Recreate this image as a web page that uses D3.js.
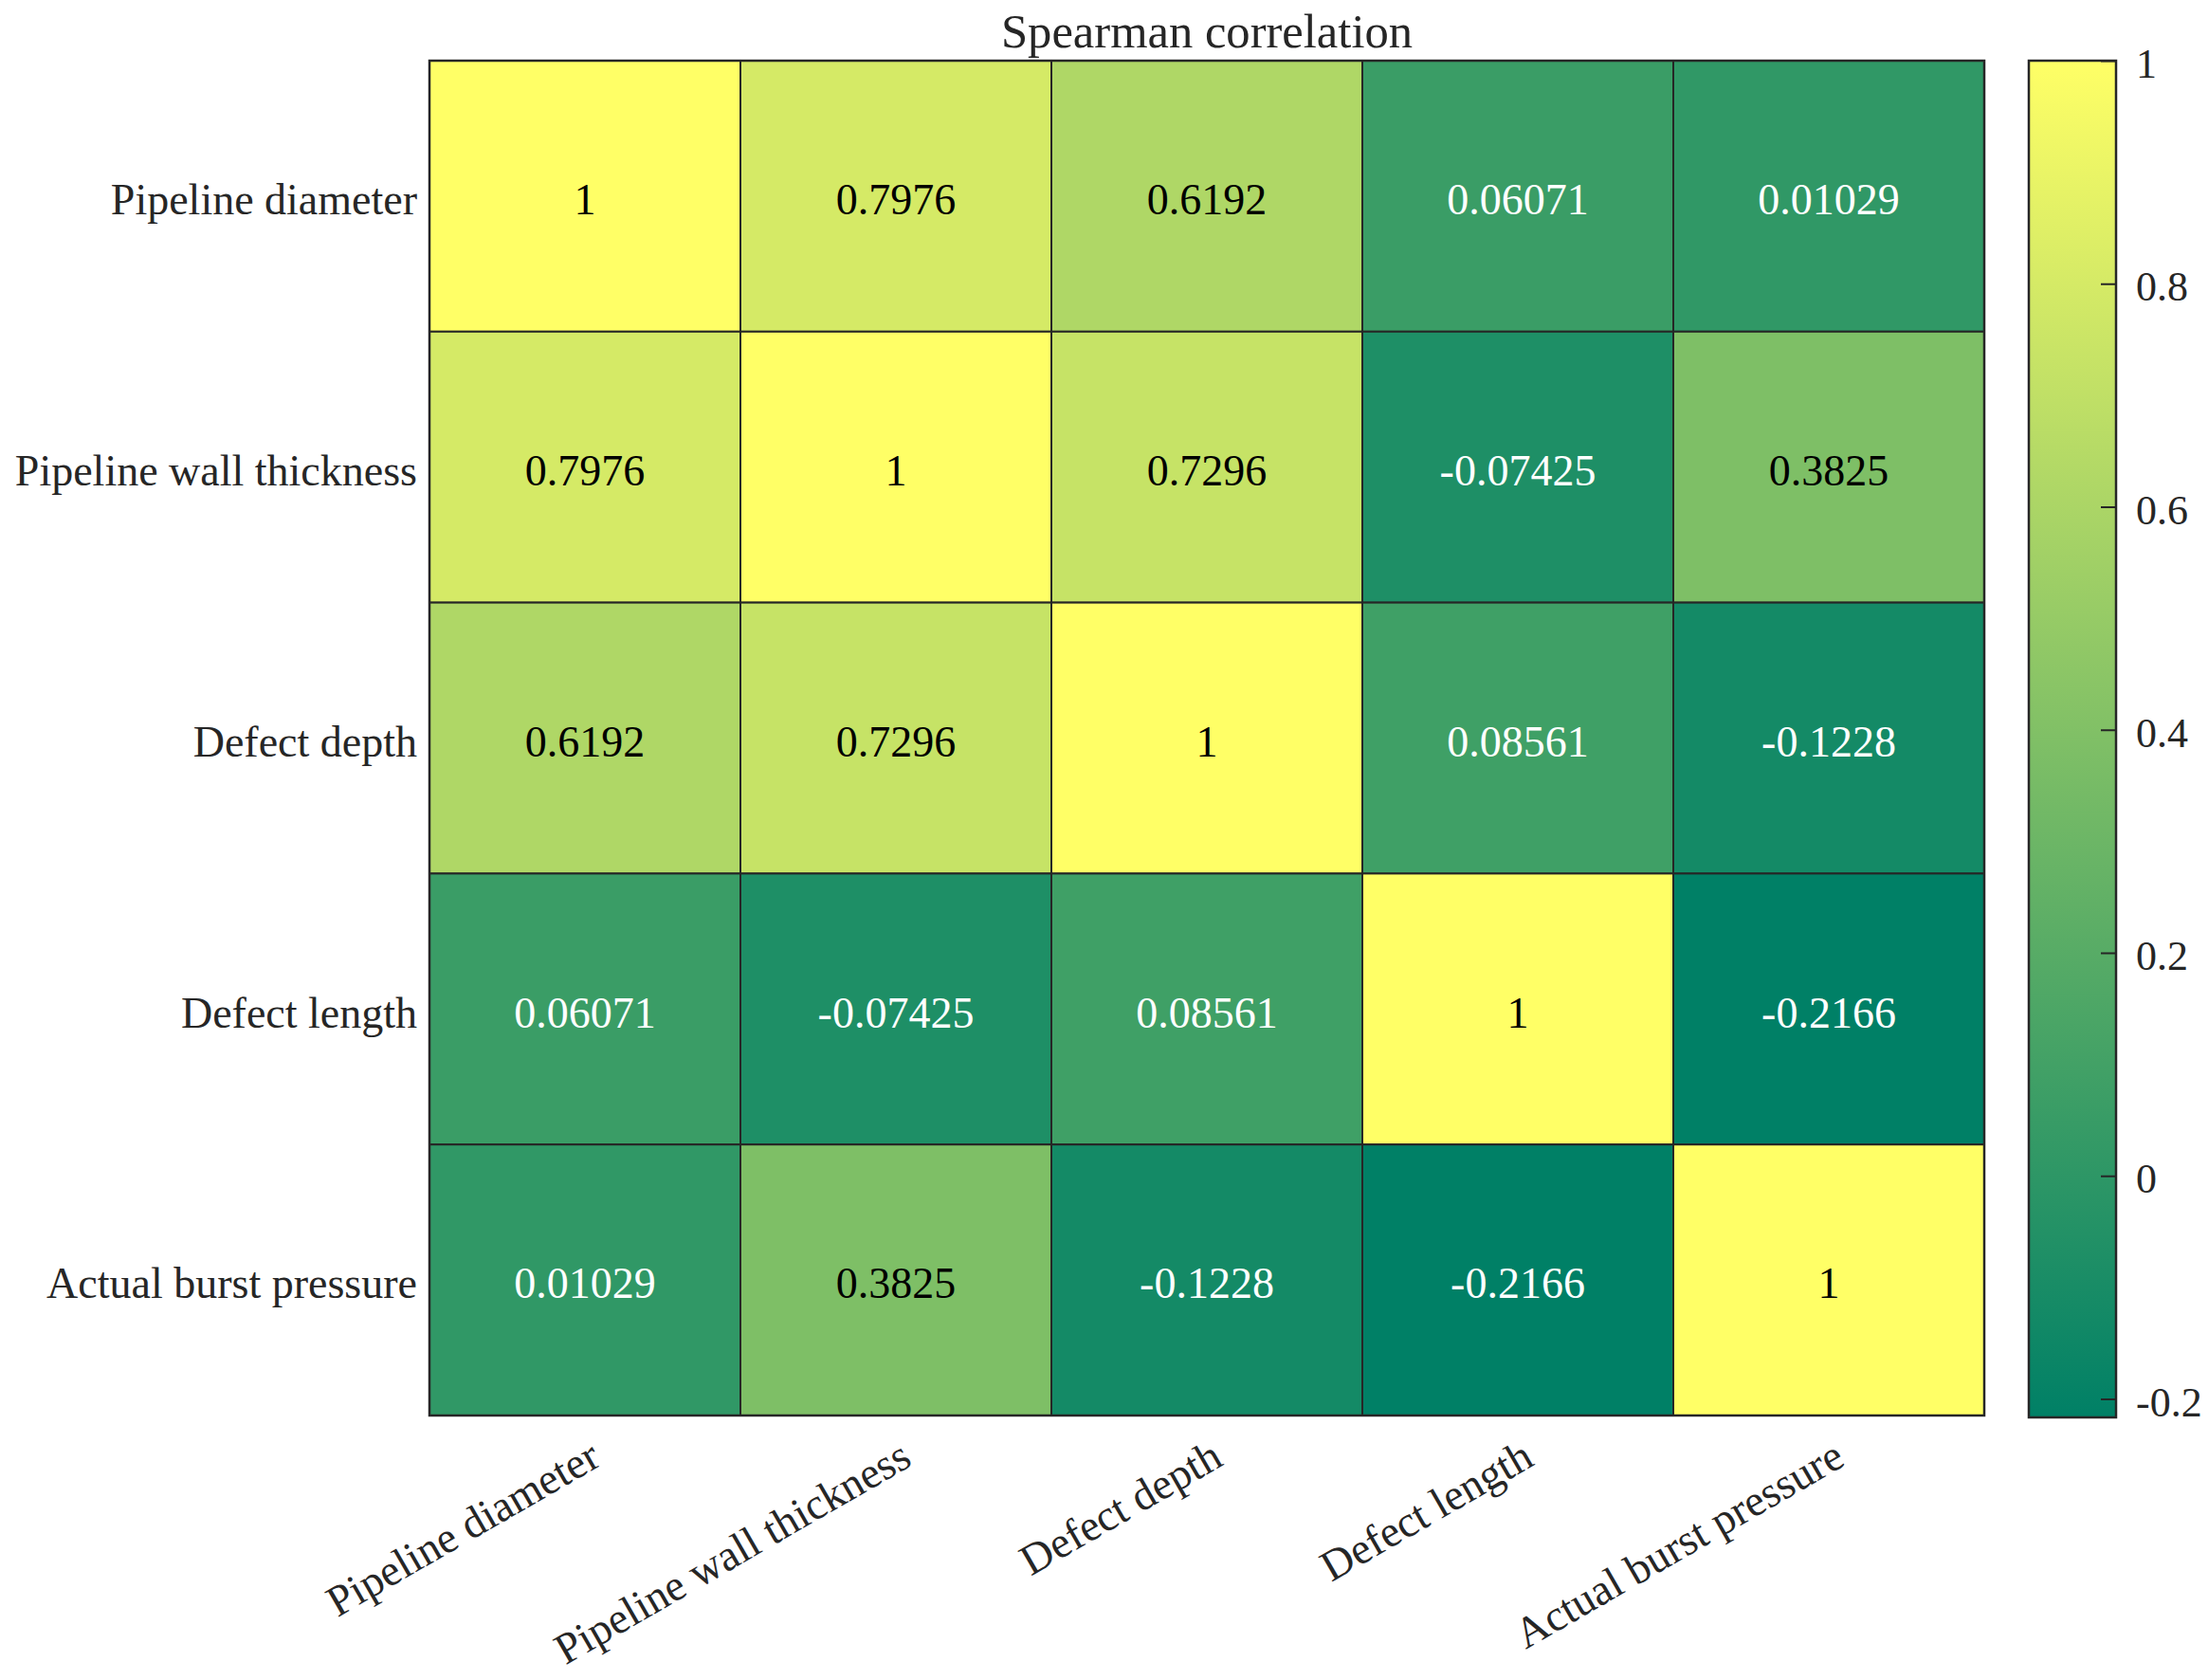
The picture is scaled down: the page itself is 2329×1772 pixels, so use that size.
<!DOCTYPE html>
<html>
<head>
<meta charset="utf-8">
<script src="https://cdn.jsdelivr.net/npm/d3@7"></script>
<style>
  body { margin: 0; background: #fff; }
  text { font-family: "Liberation Serif", "Times New Roman", serif; }
</style>
</head>
<body>
<svg id="chart" width="2329" height="1772"></svg>
<script>
// variables, same order on both axes
const variables = [
  "Pipeline diameter",
  "Pipeline wall thickness",
  "Defect depth",
  "Defect length",
  "Actual burst pressure"
];

// Spearman coefficients, one row per variable
const rowDiameter = [1, 0.7976, 0.6192, 0.06071, 0.01029];
const rowThickness = [0.7976, 1, 0.7296, -0.07425, 0.3825];
const rowDepth = [0.6192, 0.7296, 1, 0.08561, -0.1228];
const rowLength = [0.06071, -0.07425, 0.08561, 1, -0.2166];
const rowPressure = [0.01029, 0.3825, -0.1228, -0.2166, 1];

const colorbarTicks = [1, 0.8, 0.6, 0.4, 0.2, 0, -0.2];

const title = "Spearman correlation";

const rows = [rowDiameter, rowThickness, rowDepth, rowLength, rowPressure];
const cells = [];
rows.forEach((r, i) => r.forEach((v, j) => cells.push({ row: variables[i], col: variables[j], v })));

const svg = d3.select("#chart");
const fontSize = 46;
const gridColor = "#262626";

// plot area
const plotLeft = 453, plotRight = 2093, plotTop = 64, plotBottom = 1493;

const x = d3.scaleBand().domain(variables).range([plotLeft, plotRight]);
const y = d3.scaleBand().domain(variables).range([plotTop, plotBottom]);

const vmin = d3.min(cells, d => d.v), vmax = d3.max(cells, d => d.v);
// MATLAB "summer" colormap
const color = d3.scaleLinear().domain([vmin, vmax]).range(["#008066", "#ffff66"]);

const textColor = (v) => {
  const c = d3.rgb(color(v));
  const lum = 0.299 * c.r + 0.587 * c.g + 0.114 * c.b;
  return lum > 140 ? "#000" : "#fff";
};

// cells
svg.append("g")
  .selectAll("rect")
  .data(cells)
  .enter()
  .append("rect")
  .attr("x", d => x(d.col))
  .attr("y", d => y(d.row))
  .attr("width", x.bandwidth())
  .attr("height", y.bandwidth())
  .attr("fill", d => color(d.v))
  .attr("stroke", gridColor)
  .attr("stroke-width", 2);

svg.append("g")
  .selectAll("text")
  .data(cells)
  .enter()
  .append("text")
  .attr("x", d => x(d.col) + x.bandwidth() / 2)
  .attr("y", d => y(d.row) + y.bandwidth() / 2)
  .attr("dy", "0.42em")
  .attr("text-anchor", "middle")
  .attr("font-size", fontSize)
  .attr("fill", d => textColor(d.v))
  .text(d => String(d.v));

svg.append("rect")
  .attr("x", plotLeft).attr("y", plotTop)
  .attr("width", plotRight - plotLeft).attr("height", plotBottom - plotTop)
  .attr("fill", "none")
  .attr("stroke", gridColor)
  .attr("stroke-width", 2.5);

// row labels
const yAxis = svg.append("g")
  .attr("transform", `translate(${plotLeft},0)`)
  .call(d3.axisLeft(y).tickSize(0).tickPadding(13));
yAxis.select(".domain").remove();
yAxis.selectAll("text")
  .attr("font-size", fontSize)
  .attr("fill", "#262626")
  .attr("dy", "0.42em");

// column labels, rotated
const xAxis = svg.append("g")
  .attr("transform", `translate(0,${plotBottom})`)
  .call(d3.axisBottom(x).tickSize(0));
xAxis.select(".domain").remove();
xAxis.selectAll("text")
  .attr("font-size", fontSize)
  .attr("fill", "#262626")
  .attr("text-anchor", "end")
  .attr("dy", "0.34em")
  .attr("transform", "translate(11,38) rotate(-30)")
  .attr("y", 0);

// title
svg.append("text")
  .attr("x", (plotLeft + plotRight) / 2)
  .attr("y", 50)
  .attr("text-anchor", "middle")
  .attr("font-size", fontSize * 1.1)
  .attr("fill", "#262626")
  .text(title);

// colorbar
const cbLeft = 2140, cbRight = 2232, cbTop = 64, cbBottom = 1495;
const defs = svg.append("defs");
const grad = defs.append("linearGradient")
  .attr("id", "cbgrad")
  .attr("x1", 0).attr("y1", 1).attr("x2", 0).attr("y2", 0);
grad.append("stop").attr("offset", 0).attr("stop-color", color(vmin));
grad.append("stop").attr("offset", 1).attr("stop-color", color(vmax));

svg.append("rect")
  .attr("x", cbLeft).attr("y", cbTop)
  .attr("width", cbRight - cbLeft).attr("height", cbBottom - cbTop)
  .attr("fill", "url(#cbgrad)")
  .attr("stroke", gridColor)
  .attr("stroke-width", 2.5);

const cbScale = d3.scaleLinear().domain([vmin, vmax]).range([cbBottom, cbTop]);
const cbAxis = svg.append("g")
  .attr("transform", `translate(${cbRight},0)`)
  .call(d3.axisRight(cbScale)
    .tickValues(colorbarTicks)
    .tickSizeInner(-16)
    .tickSizeOuter(0)
    .tickPadding(21)
    .tickFormat(d => String(d)));
cbAxis.select(".domain").remove();
cbAxis.selectAll("line").attr("stroke", gridColor).attr("stroke-width", 2);
cbAxis.selectAll("text")
  .attr("font-size", 44)
  .attr("fill", "#262626")
  .attr("dy", "0.4em");
</script>
</body>
</html>
